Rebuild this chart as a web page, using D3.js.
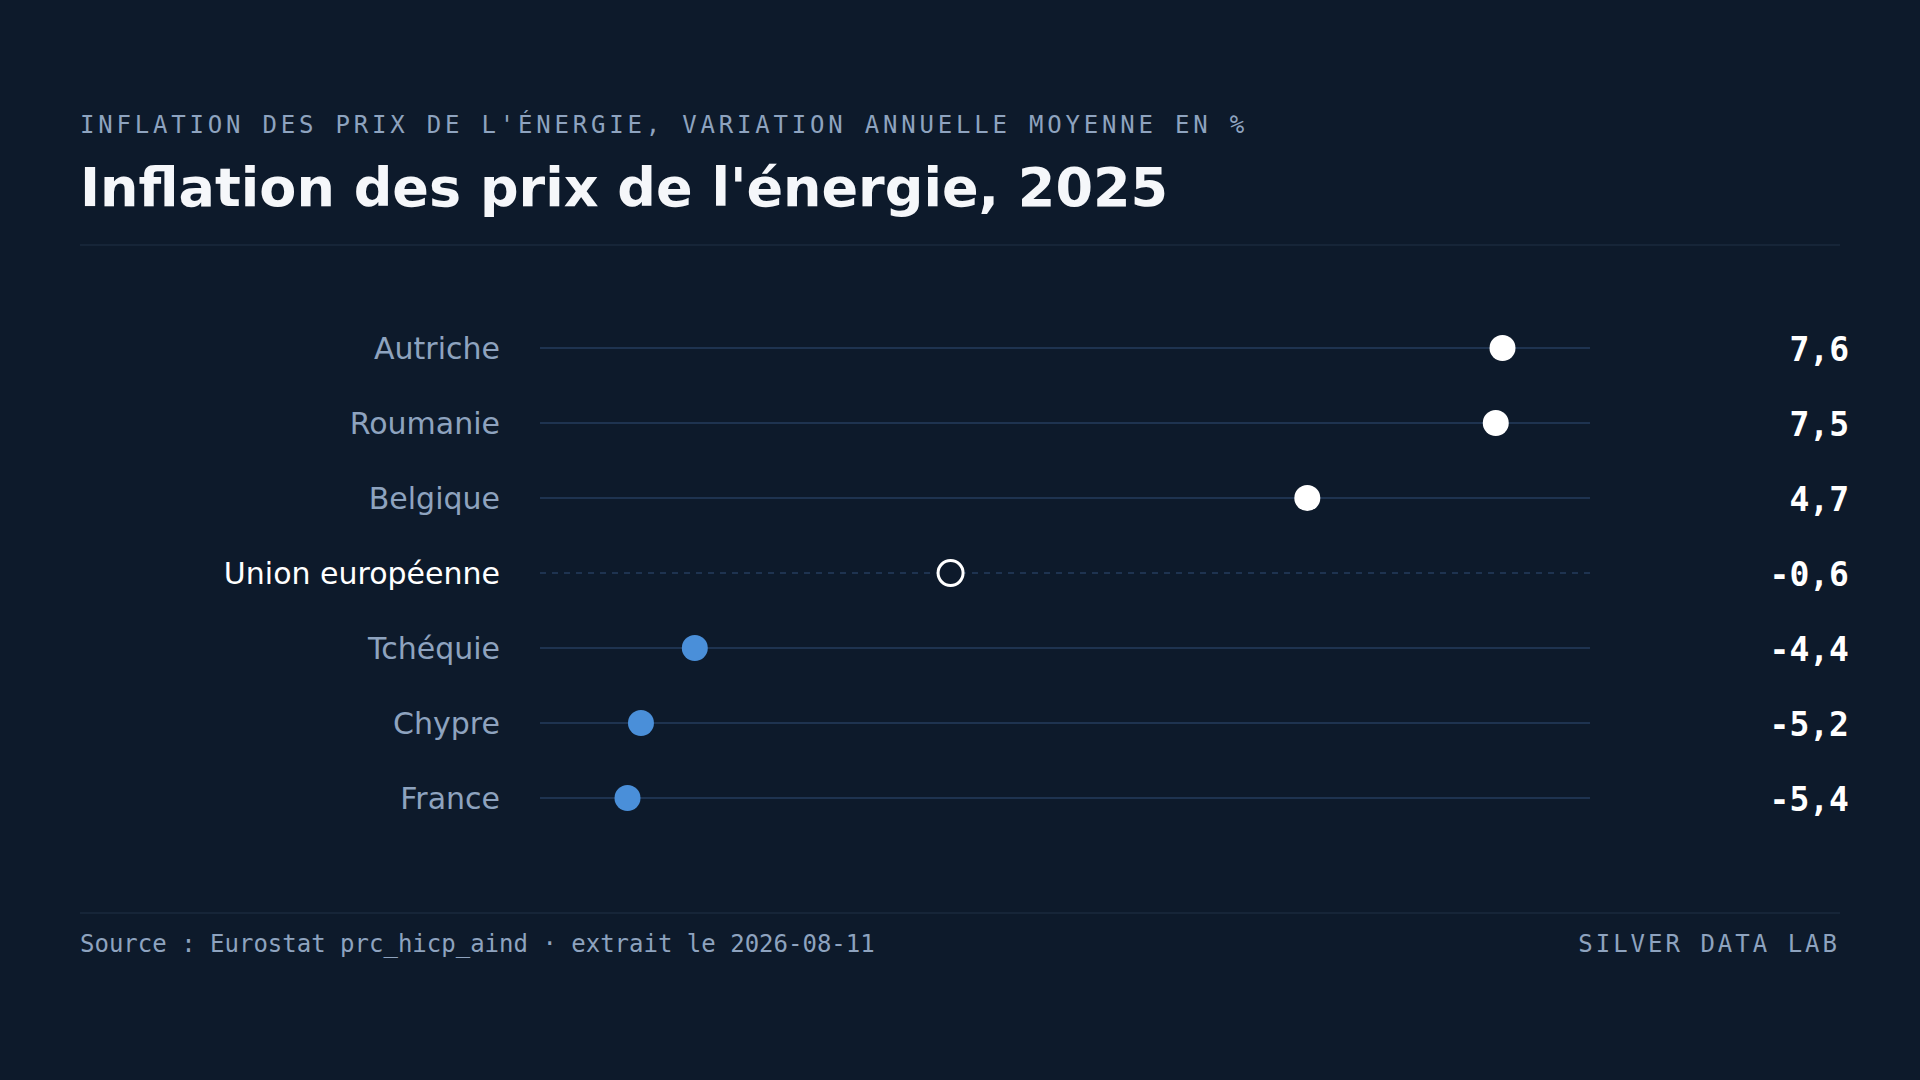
<!DOCTYPE html>
<html>
<head>
<meta charset="utf-8">
<script src="https://cdn.jsdelivr.net/npm/d3@7"></script>
<style>
  html, body { margin: 0; padding: 0; background: #0d1a2b; }
  svg { display: block; }
</style>
</head>
<body>
<svg id="chart" width="1920" height="1080"></svg>
<script>
const countries = ["Autriche", "Roumanie", "Belgique", "Union européenne", "Tchéquie", "Chypre", "France"];
const values = [7.6, 7.5, 4.7, -0.6, -4.4, -5.2, -5.4];
const highlight = "Union européenne";
const subtitleText = "INFLATION DES PRIX DE L'ÉNERGIE, VARIATION ANNUELLE MOYENNE EN %";
const titleText = "Inflation des prix de l'énergie, 2025";
const sourceText = "Source : Eurostat prc_hicp_aind · extrait le 2026-08-11";
const brandText = "SILVER DATA LAB";

const data = countries.map((c, i) => ({ name: c, value: values[i] }));

const W = 1920, H = 1080;
const svg = d3.select("#chart");
svg.append("rect").attr("width", W).attr("height", H).attr("fill", "#0d1a2b");

const mono = "'DejaVu Sans Mono', monospace";
const sans = "'DejaVu Sans', sans-serif";

svg.append("text").attr("x", 80).attr("y", 132.5)
  .attr("font-family", mono).attr("font-size", 24).attr("letter-spacing", "3.8px")
  .attr("fill", "#8ea3bf").text(subtitleText);

svg.append("text").attr("x", 80).attr("y", 205.5)
  .attr("font-family", sans).attr("font-weight", "bold").attr("font-size", 54)
  .attr("fill", "#f5f7fa").text(titleText);

svg.append("line").attr("x1", 80).attr("x2", 1840).attr("y1", 245).attr("y2", 245)
  .attr("stroke", "#1a2a3e").attr("stroke-width", 1.5);

const vmin = d3.min(values), vmax = d3.max(values);
const pad = (vmax - vmin) * 0.1;
const x = d3.scaleLinear().domain([vmin - pad, vmax + pad]).range([540, 1590]);
const y = d3.scalePoint().domain(countries).range([348, 798]);

const rows = svg.append("g").selectAll("g").data(data).join("g")
  .attr("transform", d => `translate(0,${y(d.name)})`);

rows.append("line")
  .attr("x1", x.range()[0]).attr("x2", x.range()[1])
  .attr("stroke", "#1e3350").attr("stroke-width", 2)
  .attr("stroke-dasharray", d => d.name === highlight ? "6 6" : null);

rows.append("text")
  .attr("x", 500).attr("dy", "0.36em").attr("text-anchor", "end")
  .attr("font-family", sans).attr("font-size", 30)
  .attr("fill", d => d.name === highlight ? "#ffffff" : "#8ea3bf")
  .text(d => d.name);

rows.append("circle")
  .attr("cx", d => x(d.value)).attr("r", d => d.name === highlight ? 12.5 : 13)
  .attr("fill", d => d.name === highlight ? "#0d1a2b" : (d.value < 0 ? "#4a8fd9" : "#ffffff"))
  .attr("stroke", d => d.name === highlight ? "#ffffff" : "none")
  .attr("stroke-width", 3);

const fmt = v => d3.format(".1f")(v).replace(".", ",").replace("−", "-");
rows.append("text")
  .attr("x", 1849).attr("dy", "0.38em").attr("text-anchor", "end")
  .attr("font-family", mono).attr("font-weight", "bold").attr("font-size", 33)
  .attr("fill", "#ffffff")
  .text(d => fmt(d.value));

svg.append("line").attr("x1", 80).attr("x2", 1840).attr("y1", 913).attr("y2", 913)
  .attr("stroke", "#1a2a3e").attr("stroke-width", 1.5);

svg.append("text").attr("x", 80).attr("y", 952)
  .attr("font-family", mono).attr("font-size", 24)
  .attr("fill", "#8ea3bf").text(sourceText);

svg.append("text").attr("x", 1840).attr("y", 952).attr("text-anchor", "end")
  .attr("font-family", mono).attr("font-size", 24).attr("letter-spacing", "3px")
  .attr("fill", "#8ea3bf").text(brandText);
</script>
</body>
</html>
